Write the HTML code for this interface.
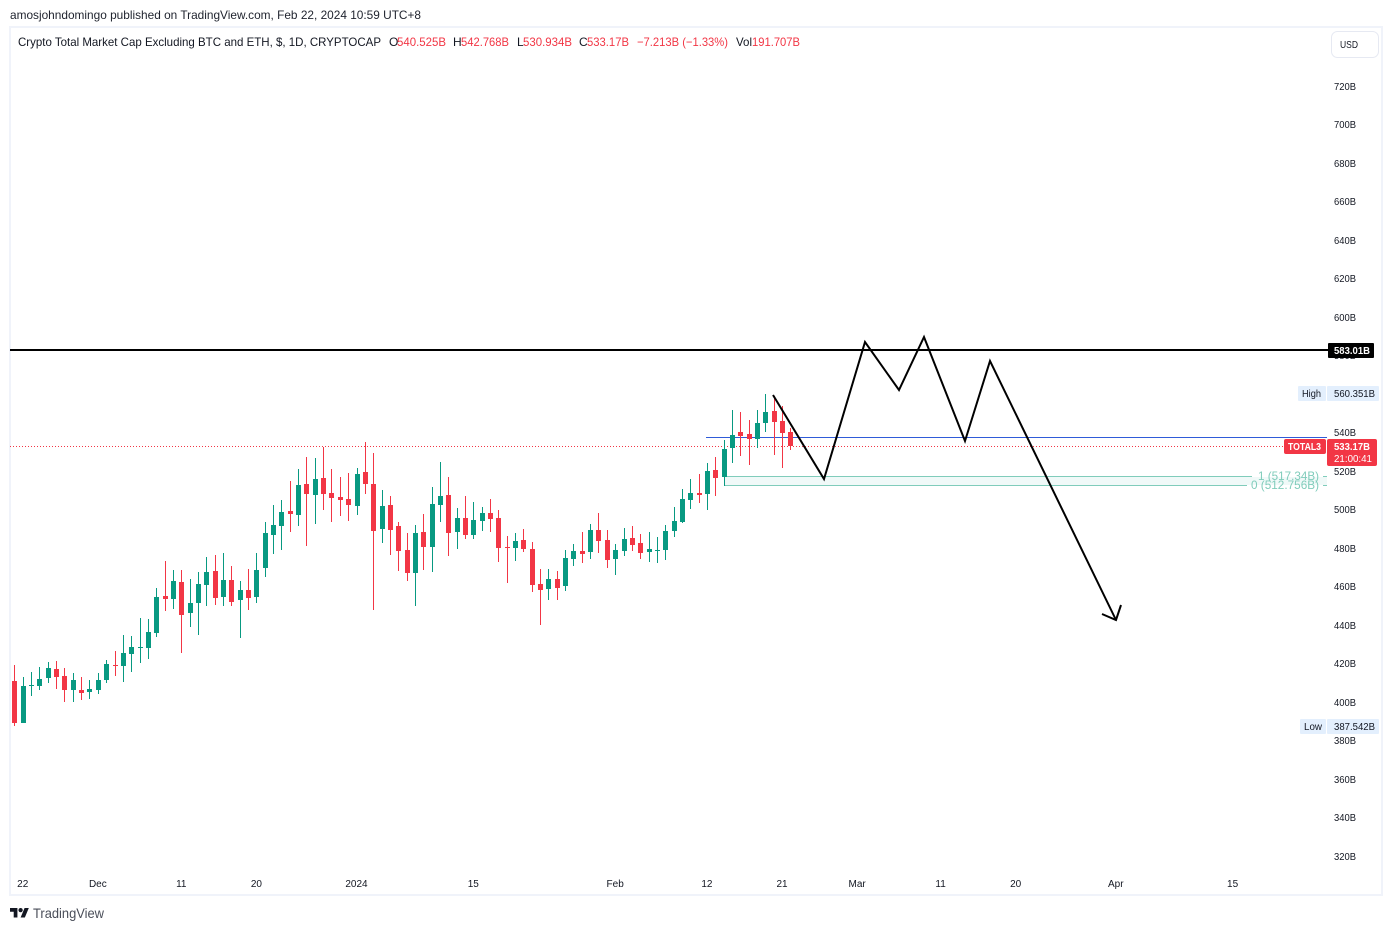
<!DOCTYPE html>
<html lang="en">
<head>
<meta charset="utf-8">
<title>Crypto Total Market Cap Excluding BTC and ETH</title>
<style>
html,body{margin:0;padding:0;background:#fff;width:1393px;height:931px;overflow:hidden}
svg{display:block;font-family:"Liberation Sans",sans-serif}
text{fill:#131722}
.r{fill:#f23645}
.l{font-size:12px}
</style>
</head>
<body>
<svg id="chart" width="1393" height="931" viewBox="0 0 1393 931" xmlns="http://www.w3.org/2000/svg">
  <rect width="1393" height="931" fill="#fff"/>
  <text x="10" y="19" font-size="12" textLength="411" lengthAdjust="spacingAndGlyphs" style="fill:#1e222d">amosjohndomingo published on TradingView.com, Feb 22, 2024 10:59 UTC+8</text>

  <g fill="#f0f3fa">
    <rect x="9" y="26" width="1374" height="2"/>
    <rect x="9" y="894" width="1374" height="2"/>
    <rect x="9" y="26" width="2" height="870"/>
    <rect x="1381" y="26" width="2" height="870"/>
  </g>

  <g>
    <text class="l" x="18" y="46" textLength="363" lengthAdjust="spacingAndGlyphs">Crypto Total Market Cap Excluding BTC and ETH, $, 1D, CRYPTOCAP</text>
    <text class="l" x="389" y="46">O</text>
    <text class="l r" x="397" y="46" textLength="49" lengthAdjust="spacingAndGlyphs">540.525B</text>
    <text class="l" x="453" y="46">H</text>
    <text class="l r" x="461" y="46" textLength="48" lengthAdjust="spacingAndGlyphs">542.768B</text>
    <text class="l" x="517" y="46">L</text>
    <text class="l r" x="523" y="46" textLength="49" lengthAdjust="spacingAndGlyphs">530.934B</text>
    <text class="l" x="579" y="46">C</text>
    <text class="l r" x="587" y="46" textLength="42" lengthAdjust="spacingAndGlyphs">533.17B</text>
    <text class="l r" x="637" y="46" textLength="91" lengthAdjust="spacingAndGlyphs">−7.213B (−1.33%)</text>
    <text class="l" x="736" y="46" textLength="16" lengthAdjust="spacingAndGlyphs">Vol</text>
    <text class="l r" x="752" y="46" textLength="48" lengthAdjust="spacingAndGlyphs">191.707B</text>
  </g>

  <g>
    <rect x="1331.5" y="31.5" width="47" height="26" rx="6" fill="#fff" stroke="#e6e9f2"/>
    <text x="1340" y="48" font-size="10" textLength="18" lengthAdjust="spacingAndGlyphs">USD</text>
  </g>

  <g id="y-axis"></g>
  <g id="x-axis"></g>

  <g>
    <rect x="724" y="477" width="603" height="8" fill="#089981" fill-opacity="0.06"/>
    <rect x="724" y="476" width="528" height="1" fill="#80ccbb"/>
    <rect x="1323" y="476" width="4" height="1" fill="#80ccbb"/>
    <rect x="724" y="485" width="523" height="1" fill="#80ccbb"/>
    <rect x="1323" y="485" width="4" height="1" fill="#80ccbb"/>
    <text x="1258" y="480" font-size="12" textLength="61" lengthAdjust="spacingAndGlyphs" style="fill:#80ccbb">1 (517.34B)</text>
    <text x="1251" y="489" font-size="12" textLength="68" lengthAdjust="spacingAndGlyphs" style="fill:#80ccbb">0 (512.756B)</text>
  </g>
  <rect x="706" y="437" width="621" height="1" fill="#2f5bd8"/>
  <line x1="10" y1="446.5" x2="1284" y2="446.5" stroke="#f23645" stroke-width="1" stroke-dasharray="1 2"/>

  <g id="candles" shape-rendering="crispEdges"></g>

  <rect x="10" y="349" width="1318" height="2" fill="#000"/>
  <polyline points="773,395 824,479 865,342 899,390 924,337 965,441 990,361 1116,620" fill="none" stroke="#000" stroke-width="2" stroke-linejoin="miter"/>
  <polyline points="1102,614 1116,620 1121,605" fill="none" stroke="#000" stroke-width="2"/>

  <g>
    <rect x="1328" y="343" width="46" height="15" rx="1" fill="#000"/>
    <text x="1334" y="354" font-size="10" font-weight="bold" textLength="36" lengthAdjust="spacingAndGlyphs" style="fill:#fff">583.01B</text>
  </g>
  <g>
    <rect x="1298" y="386" width="28" height="15" rx="1" fill="#e3effd"/>
    <text x="1302" y="397" font-size="10" textLength="19" lengthAdjust="spacingAndGlyphs">High</text>
    <rect x="1327" y="386" width="52" height="15" rx="1" fill="#e3effd"/>
    <text x="1334" y="397" font-size="10" textLength="41" lengthAdjust="spacingAndGlyphs">560.351B</text>
  </g>
  <g>
    <rect x="1284" y="439" width="42" height="15" rx="2" fill="#f23645"/>
    <text x="1288" y="450" font-size="10" font-weight="bold" textLength="33" lengthAdjust="spacingAndGlyphs" style="fill:#fff">TOTAL3</text>
    <rect x="1327" y="439" width="50" height="27" rx="2" fill="#f23645"/>
    <text x="1334" y="450" font-size="10" font-weight="bold" textLength="36" lengthAdjust="spacingAndGlyphs" style="fill:#fff">533.17B</text>
    <text x="1334" y="462" font-size="10" textLength="38" lengthAdjust="spacingAndGlyphs" style="fill:#fff">21:00:41</text>
  </g>
  <g>
    <rect x="1300" y="719" width="26" height="15" rx="1" fill="#e3effd"/>
    <text x="1304" y="730" font-size="10" textLength="18" lengthAdjust="spacingAndGlyphs">Low</text>
    <rect x="1327" y="719" width="52" height="15" rx="1" fill="#e3effd"/>
    <text x="1334" y="730" font-size="10" textLength="41" lengthAdjust="spacingAndGlyphs">387.542B</text>
  </g>

  <g>
    <g transform="translate(10 905.9) scale(0.53)" fill="#131722">
      <path d="M14 22H7V11H0V4h14v18zM28 22h-8l7.5-18h8L28 22z"/>
      <circle cx="20" cy="8" r="4"/>
    </g>
    <text x="33" y="918" font-size="14" textLength="71" lengthAdjust="spacingAndGlyphs" style="fill:#4a4e59">TradingView</text>
  </g>
</svg>

<script>
const priceTicks = [720,700,680,660,640,620,600,580,540,520,500,480,460,440,420,400,380,360,340,320];
const timeLabels = ['22','Dec','11','20','2024','15','Feb','12','21','Mar','11','20','Apr','15'];
const timeBarIndex = [1,10,20,29,41,55,72,83,92,101,111,120,132,146];

const opens = [411.2,389.4,408.6,408.6,412.7,417.4,413.8,406.5,406.5,405.5,406.5,411.7,419.5,419.0,425.2,428.3,428.3,436.1,455.3,453.8,462.6,446.5,451.7,461.0,468.3,454.8,463.6,453.2,458.4,454.8,469.8,487.0,491.7,499.5,497.4,513.5,507.8,516.6,508.8,506.7,505.7,502.1,519.7,513.5,490.1,502.6,491.7,479.2,467.3,488.6,480.9,502.6,507.8,488.6,495.8,487.0,494.3,498.4,495.8,480.7,480.2,484.4,479.7,461.5,458.9,464.1,460.5,474.5,478.7,478.1,489.6,484.4,474.5,478.7,485.4,482.8,478.1,478.7,479.2,489.1,493.8,505.2,508.8,508.3,520.8,517.1,532.2,540.5,539.5,536.9,545.2,551.4,546.3,540.525];
const highs = [419.5,413.3,415.9,418.5,421.1,421.6,417.9,415.3,413.3,411.7,415.3,422.1,426.8,435.1,434.6,443.9,443.4,459.5,473.5,468.8,468.8,464.1,467.8,475.6,476.6,477.6,470.9,463.1,469.3,477.6,493.8,502.6,505.2,515.1,521.3,527.6,527.0,532.8,521.3,517.1,519.2,521.8,535.4,529.6,510.4,507.3,493.8,488.0,492.2,498.0,512.0,525.0,517.1,501.0,507.3,504.2,501.6,505.7,500.0,486.5,488.0,490.1,483.4,469.3,469.3,468.3,479.2,482.3,488.6,492.7,498.4,489.6,482.3,490.7,491.7,487.5,488.6,486.0,492.2,501.6,510.9,516.1,518.7,524.5,527.6,536.4,551.9,550.9,546.8,551.9,560.351,559.4,554.0,542.768];
const lows = [387.542,389.2,403.4,406.5,410.1,407.0,400.3,400.3,401.3,401.8,404.4,410.1,413.8,410.7,415.9,420.5,422.6,434.0,447.5,448.6,425.7,439.3,435.1,450.1,450.6,450.1,450.1,433.5,448.1,451.7,465.1,477.1,479.2,488.6,491.7,481.3,492.7,500.0,493.8,496.9,494.3,497.4,508.3,448.1,482.8,476.6,468.3,463.1,450.1,468.8,467.8,493.8,476.1,479.7,484.9,484.9,489.1,488.6,472.9,461.9,473.5,478.1,457.3,440.3,453.2,453.2,457.9,470.9,472.4,474.5,477.6,469.8,466.2,476.1,478.7,474.5,472.9,472.4,474.0,486.0,493.2,500.5,503.6,500.0,507.3,512.5,524.5,528.1,523.4,532.2,540.5,528.6,521.8,530.934];
const closes = [389.4,408.6,409.1,412.2,417.9,413.3,406.5,411.7,404.9,407.0,411.7,420.0,419.0,425.7,428.9,428.9,436.6,454.8,453.8,463.1,445.5,451.7,461.5,467.8,454.3,463.6,452.2,458.4,454.3,468.8,488.0,492.2,499.0,497.9,513.0,508.3,516.1,508.3,506.2,505.2,502.6,518.7,513.5,489.1,502.1,489.6,478.7,467.3,488.0,480.9,503.1,507.3,488.0,495.8,487.0,494.8,498.4,495.3,480.2,480.2,483.9,479.7,461.0,458.4,464.1,459.4,475.0,478.7,477.1,489.6,483.9,474.0,479.2,484.9,481.8,477.6,479.7,479.2,489.1,494.3,505.7,508.8,507.8,520.3,516.6,531.7,539.0,538.5,536.9,545.2,550.9,545.7,540.0,533.17];

const NS = 'http://www.w3.org/2000/svg';
const priceToY = v => 86.5 + (720 - v) * 1.925;
const barToX = i => 14.4 + 8.344 * i;

const yAxis = document.getElementById('y-axis');
priceTicks.forEach(function (tick) {
  const t = document.createElementNS(NS, 'text');
  
  
  t.setAttribute('x', 1334);
  t.setAttribute('y', Math.round(priceToY(tick) + 3));
  t.setAttribute('font-size', 10);
  t.setAttribute('textLength', 22);
  t.setAttribute('lengthAdjust', 'spacingAndGlyphs');
  t.textContent = tick + 'B';
  yAxis.appendChild(t);
});

const xAxis = document.getElementById('x-axis');
timeLabels.forEach(function (label, k) {
  const t = document.createElementNS(NS, 'text');
  
  
  t.setAttribute('x', barToX(timeBarIndex[k]));
  t.setAttribute('y', 887);
  t.setAttribute('font-size', 10);
  t.setAttribute('text-anchor', 'middle');
  t.textContent = label;
  xAxis.appendChild(t);
});

const group = document.getElementById('candles');
closes.forEach(function (close, i) {
  const open = opens[i];
  const color = close >= open ? '#089981' : '#f23645';
  const px = Math.round(barToX(i));
  const bodyTop = Math.round(priceToY(Math.max(open, close)));
  const bodyBottom = Math.round(priceToY(Math.min(open, close)));
  const wickTop = Math.round(priceToY(highs[i]));
  const wickBottom = Math.round(priceToY(lows[i]));

  const wick = document.createElementNS(NS, 'rect');
  
  
  wick.setAttribute('x', px);
  wick.setAttribute('y', wickTop);
  wick.setAttribute('width', 1);
  wick.setAttribute('height', Math.max(1, wickBottom - wickTop));
  wick.setAttribute('fill', color);
  group.appendChild(wick);

  const body = document.createElementNS(NS, 'rect');
  
  
  body.setAttribute('x', px - 2);
  body.setAttribute('y', bodyTop);
  body.setAttribute('width', 5);
  body.setAttribute('height', Math.max(1, bodyBottom - bodyTop));
  body.setAttribute('fill', color);
  group.appendChild(body);
});
</script>
</body>
</html>
